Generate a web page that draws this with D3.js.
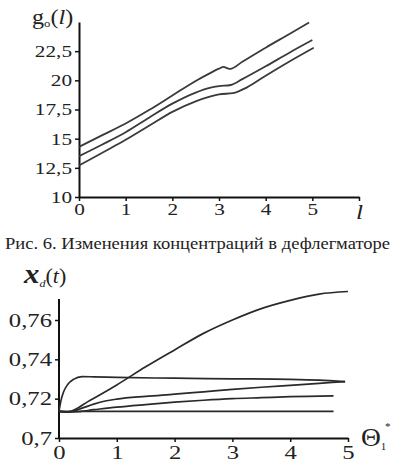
<!DOCTYPE html>
<html>
<head>
<meta charset="utf-8">
<script src="https://cdn.jsdelivr.net/npm/d3@7"></script>
<style>
  body { margin: 0; background: #fff; }
  svg { display: block; }
</style>
</head>
<body>
<div id="chart"></div>
<script>
// top chart: g0(l), three curves
const topTicksX = [0, 1, 2, 3, 4, 5, 6];
const topTickLabelsX = ["0", "1", "2", "3", "4", "5", ""];
const topTicksY = [10, 12.5, 15, 17.5, 20, 22.5];
const topTickLabelsY = ["10", "12,5", "15", "17,5", "20", "22,5"];

const g0Upper = [[0,14.3],[0.5,15.3],[1,16.3],[1.5,17.45],[2,18.7],[2.5,19.95],[2.8,20.6],[3.0,21.0],[3.1,21.15],[3.17,21.05],[3.24,20.98],[3.5,21.6],[4,22.8],[4.5,23.95],[4.93,24.95]];
const g0Middle = [[0,13.5],[0.5,14.5],[1,15.55],[1.5,16.8],[2,18.0],[2.5,18.95],[2.8,19.35],[3.0,19.5],[3.25,19.6],[3.5,20.1],[4,21.2],[4.5,22.35],[5.0,23.45]];
const g0Lower = [[0,12.7],[0.5,13.8],[1,14.9],[1.5,16.1],[2,17.3],[2.5,18.2],[2.8,18.6],[3.0,18.8],[3.3,18.9],[3.6,19.4],[4,20.4],[4.5,21.6],[5.03,22.8]];

// bottom chart: x_d(t), five curves
const botTicksX = [0, 1, 2, 3, 4, 5];
const botTicksY = [0.70, 0.72, 0.74, 0.76];
const botTickLabelsY = ["0,7", "0,72", "0,74", "0,76"];

const xdRising = [[0,0.7135],[0.1,0.7132],[0.2,0.7135],[0.5,0.7185],[1,0.727],[1.5,0.7362],[2,0.7448],[2.5,0.7532],[3,0.7600],[3.5,0.7658],[4,0.7700],[4.5,0.7732],[5,0.7745]];
const xdPeak = [[0,0.7135],[0.03,0.7185],[0.08,0.7235],[0.15,0.7272],[0.25,0.7298],[0.4,0.7312],[0.6,0.7311],[1,0.7308],[2,0.7304],[3,0.7301],[4,0.7298],[4.5,0.7294],[4.95,0.7287]];
const xdSlowA = [[0,0.7135],[0.2,0.7134],[0.4,0.7152],[0.6,0.7172],[0.8,0.7188],[1,0.7198],[1.5,0.7212],[2,0.7223],[2.5,0.7235],[3,0.7247],[3.5,0.7258],[4,0.7268],[4.5,0.7278],[4.95,0.7287]];
const xdSlowB = [[0,0.7135],[0.3,0.7134],[0.6,0.7144],[1,0.7157],[1.5,0.7170],[2,0.7182],[2.5,0.7192],[3,0.7200],[3.5,0.7205],[4,0.7210],[4.75,0.7214]];
const xdFlat = [[0,0.7135],[0.15,0.7132],[0.4,0.7135],[1,0.7135],[2,0.7135],[3,0.7135],[4,0.7135],[4.75,0.7135]];

const W = 395, H = 476;
const FONT = "Liberation Serif";

const svg = d3.select("#chart").append("svg")
    .attr("width", W)
    .attr("height", H);

svg.append("rect").attr("width", W).attr("height", H).attr("fill", "#fff");

// ---------- top chart ----------
let xTop = d3.scaleLinear().domain([0, 6]).range([79, 359]);
let yTop = d3.scaleLinear().domain([10, 25]).range([197, 22]);

let topAxisX = svg.append("g")
    .attr("transform", `translate(0,${yTop(10)})`)
    .call(d3.axisBottom(xTop).tickValues(topTicksX).tickSize(4).tickSizeOuter(0)
        .tickFormat((d, i) => topTickLabelsX[i]));

let topAxisY = svg.append("g")
    .attr("transform", `translate(${xTop(0)},0)`)
    .call(d3.axisLeft(yTop).tickValues(topTicksY).tickSize(4).tickSizeOuter(0)
        .tickFormat((d, i) => topTickLabelsY[i]));

// reference glyphs are stretched horizontally, hence the x-scale on labels
styleAxis(topAxisX, 17, 1.25, "x", 6);
styleAxis(topAxisY, 17, 1.25, "y");

let lineTop = d3.line()
    .x(d => xTop(d[0]))
    .y(d => yTop(d[1]))
    .curve(d3.curveMonotoneX);

[g0Upper, g0Middle, g0Lower].forEach(s => {
    svg.append("path")
        .attr("d", lineTop(s))
        .attr("fill", "none")
        .attr("stroke", "#3a3a3a")
        .attr("stroke-width", 1.8);
});

// axis titles
let gLabel = addText(svg, "translate(32,24) scale(1.15,1)", 21);
gLabel.append("tspan").text("g");
gLabel.append("tspan").attr("dy", 3).attr("font-size", 11).text("o");
gLabel.append("tspan").attr("dy", -3).text("(");
gLabel.append("tspan").attr("font-style", "italic").text("l");
gLabel.append("tspan").text(")");

addText(svg, "translate(356,219) scale(1.15,1)", 22)
    .attr("font-style", "italic")
    .text("l");

// caption
svg.append("text")
    .attr("x", 5)
    .attr("y", 249)
    .attr("textLength", 385)
    .attr("lengthAdjust", "spacingAndGlyphs")
    .attr("font-family", FONT)
    .attr("font-size", 16)
    .attr("fill", "#222")
    .text("Рис. 6. Изменения концентраций в дефлегматоре");

// ---------- bottom chart ----------
let xBot = d3.scaleLinear().domain([0, 5]).range([59, 348]);
let yBot = d3.scaleLinear().domain([0.70, 0.76]).range([438, 320]);

let botAxisX = svg.append("g")
    .attr("transform", `translate(0,${yBot(0.70)})`)
    .call(d3.axisBottom(xBot).tickValues(botTicksX).tickSize(4).tickSizeOuter(0)
        .tickFormat(d3.format("d")));

let botAxisY = svg.append("g")
    .attr("transform", `translate(${xBot(0)},0)`)
    .call(d3.axisLeft(yBot).tickValues(botTicksY).tickSize(4).tickSizeOuter(0)
        .tickFormat((d, i) => botTickLabelsY[i]));

// y axis line runs above the last tick
botAxisY.select(".domain").attr("d", `M0,${yBot(0.70)}V${yBot(0.7707)}`);

styleAxis(botAxisX, 19, 1.3, "x", 8);
styleAxis(botAxisY, 19, 1.3, "y");

let lineBot = d3.line()
    .x(d => xBot(d[0]))
    .y(d => yBot(d[1]))
    .curve(d3.curveMonotoneX);

[xdRising, xdPeak, xdSlowA, xdSlowB, xdFlat].forEach(s => {
    svg.append("path")
        .attr("d", lineBot(s))
        .attr("fill", "none")
        .attr("stroke", "#2a2a2a")
        .attr("stroke-width", 1.7);
});

let xdLabel = addText(svg, "translate(24,283) scale(1.1,1)", 20);
xdLabel.append("tspan")
    .attr("font-style", "italic")
    .attr("font-weight", "bold")
    .attr("font-size", 28)
    .text("x");
xdLabel.append("tspan").attr("dy", 4).attr("font-size", 11).attr("font-style", "italic").text("d");
xdLabel.append("tspan").attr("dy", -4).text("(");
xdLabel.append("tspan").attr("font-style", "italic").text("t");
xdLabel.append("tspan").text(")");

let thetaLabel = addText(svg, "translate(361,446) scale(1.1,1)", 25);
thetaLabel.append("tspan").text("Θ");
thetaLabel.append("tspan").attr("dy", 4).attr("font-size", 10).text("1");
addText(svg, "translate(385,430)", 11).text("*");

function addText(parent, transform, size) {
    return parent.append("text")
        .attr("transform", transform)
        .attr("font-family", FONT)
        .attr("font-size", size)
        .attr("fill", "#222");
}

function styleAxis(g, size, sx, dir, gap) {
    g.attr("font-family", FONT).attr("font-size", size);
    g.select(".domain").attr("stroke", "#111").attr("stroke-width", 2);
    g.selectAll(".tick line").attr("stroke", "#111").attr("stroke-width", 1.5);
    let t = g.selectAll(".tick text")
        .attr("font-family", FONT)
        .attr("fill", "#222")
        .attr("transform", `scale(${sx},1)`);
    if (dir === "y") {
        t.attr("x", -7 / sx);
    } else {
        t.attr("y", gap);
    }
}
</script>
</body>
</html>
